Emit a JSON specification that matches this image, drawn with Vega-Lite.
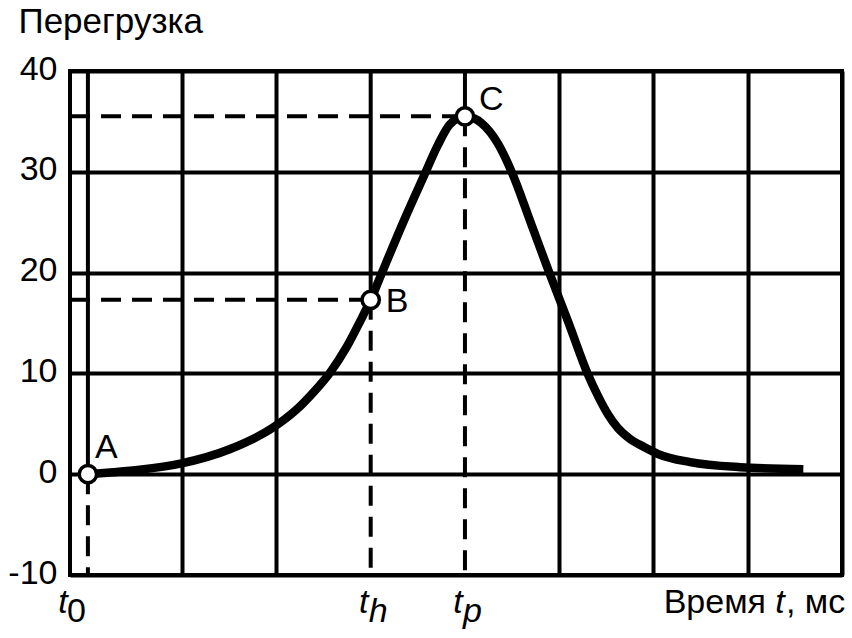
{
  "$schema": "https://vega.github.io/schema/vega-lite/v6.json",
  "description": "Перегрузка во времени",
  "width": 772,
  "height": 504,
  "autosize": "none",
  "padding": {"left": 70, "top": 71, "right": 10, "bottom": 63},
  "background": "white",
  "datasets": {
    "curve": [
      {"t": 0, "g": 0},
      {"t": 0.27, "g": 0.2},
      {"t": 0.55, "g": 0.45},
      {"t": 0.98, "g": 1.05},
      {"t": 1.51, "g": 2.5},
      {"t": 1.96, "g": 4.6},
      {"t": 2.2, "g": 6.3},
      {"t": 2.39, "g": 8.1},
      {"t": 2.57, "g": 10.1},
      {"t": 2.75, "g": 12.7},
      {"t": 2.89, "g": 15.2},
      {"t": 3.0, "g": 17.3},
      {"t": 3.12, "g": 20.0},
      {"t": 3.35, "g": 25.1},
      {"t": 3.57, "g": 29.7},
      {"t": 3.71, "g": 32.6},
      {"t": 3.84, "g": 34.7},
      {"t": 4.0, "g": 35.5},
      {"t": 4.18, "g": 34.8},
      {"t": 4.35, "g": 32.8},
      {"t": 4.5, "g": 29.9},
      {"t": 4.7, "g": 24.9},
      {"t": 4.89, "g": 20.1},
      {"t": 5.1, "g": 15.0},
      {"t": 5.3, "g": 10.0},
      {"t": 5.42, "g": 7.6},
      {"t": 5.52, "g": 5.9},
      {"t": 5.62, "g": 4.6},
      {"t": 5.75, "g": 3.5},
      {"t": 5.9, "g": 2.7},
      {"t": 6.05, "g": 2.0},
      {"t": 6.39, "g": 1.2},
      {"t": 6.92, "g": 0.7},
      {"t": 7.59, "g": 0.5}
    ],
    "points": [
      {"t": 0, "g": 0, "name": "A", "sub": "0", "gmax": 40, "gmin": -10, "tmin": -0.19},
      {"t": 3, "g": 17.3, "name": "B", "sub": "h", "gmax": 40, "gmin": -10, "tmin": -0.19},
      {"t": 4, "g": 35.5, "name": "C", "sub": "p", "gmax": 40, "gmin": -10, "tmin": -0.19}
    ]
  },
  "layer": [
    {
      "data": {"name": "points"},
      "mark": {"type": "rule", "color": "black", "strokeWidth": 4},
      "encoding": {
        "x": {
          "field": "t",
          "type": "quantitative",
          "scale": {"domain": [-0.19, 8], "nice": false, "zero": false},
          "axis": {
            "values": [1, 2, 5, 6, 7, 8],
            "grid": true,
            "gridColor": "black",
            "gridWidth": 4,
            "gridOpacity": 1,
            "labels": false,
            "ticks": false,
            "domain": false,
            "title": null
          }
        },
        "y": {
          "field": "g",
          "type": "quantitative",
          "scale": {"domain": [-10, 40], "nice": false, "zero": false},
          "axis": {
            "values": [-10, 0, 10, 20, 30, 40],
            "grid": true,
            "gridColor": "black",
            "gridWidth": 4,
            "gridOpacity": 1,
            "ticks": false,
            "domain": false,
            "labelExpr": "datum.value + ''",
            "labelFont": "Liberation Sans",
            "labelFontSize": 34,
            "labelColor": "black",
            "labelPadding": 13,
            "labelBaseline": "middle",
            "labelOffset": -2,
            "title": "Перегрузка",
            "titleFont": "Liberation Sans",
            "titleFontSize": 35,
            "titleFontWeight": "normal",
            "titleColor": "black",
            "titleAngle": 0,
            "titleAlign": "left",
            "titleBaseline": "alphabetic",
            "titleX": -52,
            "titleY": -39
          }
        },
        "y2": {"field": "gmax"}
      }
    },
    {
      "data": {"name": "points"},
      "mark": {"type": "rule", "color": "black", "strokeWidth": 4, "strokeDash": [20, 11]},
      "encoding": {
        "x": {"field": "t", "type": "quantitative"},
        "y": {"field": "g", "type": "quantitative"},
        "y2": {"field": "gmin"}
      }
    },
    {
      "data": {"name": "points"},
      "transform": [{"filter": "datum.name !== 'A'"}],
      "mark": {"type": "rule", "color": "black", "strokeWidth": 4, "strokeDash": [20, 11]},
      "encoding": {
        "x": {"field": "tmin", "type": "quantitative"},
        "x2": {"field": "t"},
        "y": {"field": "g", "type": "quantitative"}
      }
    },
    {
      "data": {"name": "curve"},
      "mark": {"type": "line", "color": "black", "strokeWidth": 8.5, "interpolate": "monotone", "strokeCap": "butt"},
      "encoding": {
        "x": {"field": "t", "type": "quantitative"},
        "y": {"field": "g", "type": "quantitative"}
      }
    },
    {
      "data": {"name": "points"},
      "mark": {"type": "point", "shape": "circle", "filled": true, "fill": "white", "stroke": "black", "strokeWidth": 3.5, "size": 300, "opacity": 1},
      "encoding": {
        "x": {"field": "t", "type": "quantitative"},
        "y": {"field": "g", "type": "quantitative"}
      }
    },
    {
      "data": {"name": "points"},
      "transform": [{"filter": "datum.name === 'A'"}],
      "mark": {"type": "text", "font": "Liberation Sans", "fontSize": 34, "color": "black", "align": "left", "baseline": "alphabetic", "dx": 7, "dy": -16},
      "encoding": {
        "x": {"field": "t", "type": "quantitative"},
        "y": {"field": "g", "type": "quantitative"},
        "text": {"field": "name"}
      }
    },
    {
      "data": {"name": "points"},
      "transform": [{"filter": "datum.name === 'B'"}],
      "mark": {"type": "text", "font": "Liberation Sans", "fontSize": 34, "color": "black", "align": "left", "baseline": "alphabetic", "dx": 15, "dy": 12},
      "encoding": {
        "x": {"field": "t", "type": "quantitative"},
        "y": {"field": "g", "type": "quantitative"},
        "text": {"field": "name"}
      }
    },
    {
      "data": {"name": "points"},
      "transform": [{"filter": "datum.name === 'C'"}],
      "mark": {"type": "text", "font": "Liberation Sans", "fontSize": 34, "color": "black", "align": "left", "baseline": "alphabetic", "dx": 14, "dy": -6},
      "encoding": {
        "x": {"field": "t", "type": "quantitative"},
        "y": {"field": "g", "type": "quantitative"},
        "text": {"field": "name"}
      }
    },
    {
      "data": {"name": "points"},
      "transform": [{"filter": "datum.name === 'A'"}],
      "mark": {"type": "text", "font": "Liberation Sans", "fontSize": 34, "fontStyle": "italic", "color": "black", "align": "center", "baseline": "alphabetic", "dx": -25, "dy": 38, "text": "t"},
      "encoding": {
        "x": {"field": "t", "type": "quantitative"},
        "y": {"field": "gmin", "type": "quantitative"}
      }
    },
    {
      "data": {"name": "points"},
      "transform": [{"filter": "datum.name === 'A'"}],
      "mark": {"type": "text", "font": "Liberation Sans", "fontSize": 34, "color": "black", "align": "left", "baseline": "alphabetic", "dx": -21, "dy": 47},
      "encoding": {
        "x": {"field": "t", "type": "quantitative"},
        "y": {"field": "gmin", "type": "quantitative"},
        "text": {"field": "sub"}
      }
    },
    {
      "data": {"name": "points"},
      "transform": [{"filter": "datum.name !== 'A'"}],
      "mark": {"type": "text", "font": "Liberation Sans", "fontSize": 34, "fontStyle": "italic", "color": "black", "align": "center", "baseline": "alphabetic", "dx": -7, "dy": 38, "text": "t"},
      "encoding": {
        "x": {"field": "t", "type": "quantitative"},
        "y": {"field": "gmin", "type": "quantitative"}
      }
    },
    {
      "data": {"name": "points"},
      "transform": [{"filter": "datum.name !== 'A'"}],
      "mark": {"type": "text", "font": "Liberation Sans", "fontSize": 34, "fontStyle": "italic", "color": "black", "align": "left", "baseline": "alphabetic", "dx": -2, "dy": 47},
      "encoding": {
        "x": {"field": "t", "type": "quantitative"},
        "y": {"field": "gmin", "type": "quantitative"},
        "text": {"field": "sub"}
      }
    },
    {
      "data": {"name": "points"},
      "transform": [{"filter": "datum.name === 'C'"}],
      "mark": {"type": "text", "font": "Liberation Sans", "fontSize": 34, "color": "black", "align": "right", "baseline": "alphabetic", "dx": 301, "dy": 38, "text": "Время"},
      "encoding": {
        "x": {"field": "t", "type": "quantitative"},
        "y": {"field": "gmin", "type": "quantitative"}
      }
    },
    {
      "data": {"name": "points"},
      "transform": [{"filter": "datum.name === 'C'"}],
      "mark": {"type": "text", "font": "Liberation Sans", "fontSize": 34, "fontStyle": "italic", "color": "black", "align": "center", "baseline": "alphabetic", "dx": 315, "dy": 38, "text": "t"},
      "encoding": {
        "x": {"field": "t", "type": "quantitative"},
        "y": {"field": "gmin", "type": "quantitative"}
      }
    },
    {
      "data": {"name": "points"},
      "transform": [{"filter": "datum.name === 'C'"}],
      "mark": {"type": "text", "font": "Liberation Sans", "fontSize": 34, "color": "black", "align": "left", "baseline": "alphabetic", "dx": 321, "dy": 38, "text": ", мс"},
      "encoding": {
        "x": {"field": "t", "type": "quantitative"},
        "y": {"field": "gmin", "type": "quantitative"}
      }
    }
  ],
  "config": {
    "view": {"stroke": "black", "strokeWidth": 4}
  }
}
